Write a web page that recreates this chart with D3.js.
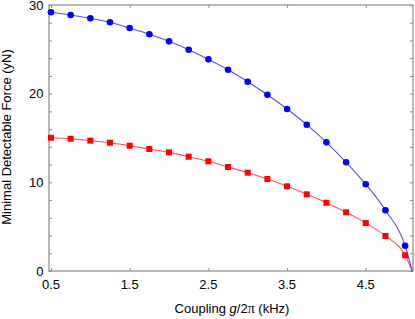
<!DOCTYPE html>
<html>
<head>
<meta charset="utf-8">
<script src="https://cdn.jsdelivr.net/npm/d3@7"></script>
<style>
html,body{margin:0;padding:0;background:#fff;}
svg{display:block;}
text{font-family:"Liberation Sans",Arial,sans-serif;fill:#000;}
</style>
</head>
<body>
<svg id="chart" width="415" height="319"></svg>
<script>
// Coupling g/2π (kHz)
const coupling = [0.5,0.75,1.0,1.25,1.5,1.75,2.0,2.25,2.5,2.75,3.0,3.25,3.5,3.75,4.0,4.25,4.5,4.75,5.0];
// Minimal detectable force (yN)
const blueForce = [29.18,28.87,28.5,28.05,27.4,26.7,25.9,24.96,23.87,22.7,21.35,19.88,18.27,16.5,14.51,12.26,9.78,6.85,2.85];
const redForce  = [15.03,14.92,14.7,14.47,14.13,13.76,13.38,12.89,12.37,11.73,11.09,10.38,9.55,8.65,7.7,6.62,5.41,3.95,1.77];
// where both curves reach zero
const cutoffCoupling = 5.09;
const xTicks = [0.5,1.5,2.5,3.5,4.5];
const yMajorTicks = [0,10,20,30];
const yMinorTicks = d3.range(0,31,2);

const svg = d3.select("#chart");
const mLeft = 49, mRight = 413, mTop = 5, mBottom = 271;

const x = d3.scaleLinear().domain([0.475, 5.1]).range([mLeft, mRight]);
const y = d3.scaleLinear().domain([0, 30]).range([mBottom, mTop]);

const frameColor = "#8a8a8a";

// frame
svg.append("rect")
  .attr("x", mLeft).attr("y", mTop)
  .attr("width", mRight - mLeft).attr("height", mBottom - mTop)
  .attr("fill", "none").attr("stroke", frameColor).attr("stroke-width", 1.2);

// axes with inward ticks
const gBottom = svg.append("g").attr("transform", `translate(0,${mBottom})`)
  .call(d3.axisTop(x).tickValues(xTicks).tickSize(3).tickFormat(""));
const gTop = svg.append("g").attr("transform", `translate(0,${mTop})`)
  .call(d3.axisBottom(x).tickValues(xTicks).tickSize(3).tickFormat(""));
const gLeft = svg.append("g").attr("transform", `translate(${mLeft},0)`)
  .call(d3.axisRight(y).tickValues(yMinorTicks).tickSize(3).tickFormat(""));
const gRight = svg.append("g").attr("transform", `translate(${mRight},0)`)
  .call(d3.axisLeft(y).tickValues(yMinorTicks).tickSize(3).tickFormat(""));
[gBottom,gTop,gLeft,gRight].forEach(g => {
  g.select(".domain").remove();
  g.selectAll(".tick line").attr("stroke", frameColor);
});

// tick labels
svg.append("g").selectAll("text").data(xTicks).join("text")
  .attr("x", d => x(d)).attr("y", 288.5)
  .attr("text-anchor", "middle").attr("font-size", 13)
  .text(d => d.toFixed(1));
svg.append("g").selectAll("text").data(yMajorTicks).join("text")
  .attr("x", 43.5).attr("y", d => y(d) + 4.6)
  .attr("text-anchor", "end").attr("font-size", 13)
  .text(d => d);

// axis titles
const xt = svg.append("text").attr("x", 232).attr("y", 313)
  .attr("text-anchor", "middle").attr("font-size", 13);
xt.append("tspan").text("Coupling ");
xt.append("tspan").attr("font-style", "italic").text("g");
xt.append("tspan").text("/2");
xt.append("tspan").attr("font-family", "Liberation Serif").attr("font-size", 14).text("π");
xt.append("tspan").text(" (kHz)");

svg.append("text")
  .attr("transform", "translate(11,137) rotate(-90)")
  .attr("text-anchor", "middle").attr("font-size", 13)
  .text("Minimal Detectable Force (yN)");

// lines
function lineData(vals){
  return coupling.map((c,i)=>[c, vals[i]]).concat([[cutoffCoupling, 0]]);
}
const line = d3.line().x(d => x(d[0])).y(d => y(d[1])).curve(d3.curveMonotoneX);

svg.append("path").datum(lineData(redForce))
  .attr("d", line).attr("fill", "none").attr("stroke", "#ff5050").attr("stroke-width", 1.1);
svg.append("path").datum(lineData(blueForce))
  .attr("d", line).attr("fill", "none").attr("stroke", "#5050ff").attr("stroke-width", 1.1);

// markers
const sq = 6;
svg.append("g").selectAll("rect").data(coupling).join("rect")
  .attr("x", (d,i) => x(d) - sq/2).attr("y", (d,i) => y(redForce[i]) - sq/2)
  .attr("width", sq).attr("height", sq).attr("fill", "#ff0000");
svg.append("g").selectAll("circle").data(coupling).join("circle")
  .attr("cx", d => x(d)).attr("cy", (d,i) => y(blueForce[i]))
  .attr("r", 3.3).attr("fill", "#0000ff");
</script>
</body>
</html>
